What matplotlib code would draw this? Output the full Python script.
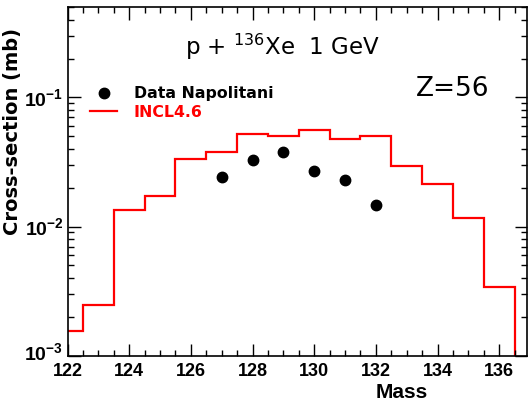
import matplotlib.pyplot as plt
import numpy as np
from matplotlib.lines import Line2D
from matplotlib.ticker import MultipleLocator, LogLocator, FixedLocator
from matplotlib.transforms import ScaledTranslation

plt.rcParams['font.family'] = ['Liberation Sans', 'DejaVu Sans']
plt.rcParams['mathtext.default'] = 'regular'

# INCL4.6 histogram, one bin per mass number
incl_mass = [122, 123, 124, 125, 126, 127, 128, 129, 130, 131, 132, 133, 134, 135, 136]
incl_xs = [1.55e-3, 2.47e-3, 1.355e-2, 1.71e-2, 3.33e-2, 3.80e-2, 5.23e-2, 5.03e-2,
           5.59e-2, 4.81e-2, 4.99e-2, 2.95e-2, 2.15e-2, 1.17e-2, 3.39e-3]

# Napolitani data points
data_mass = [127, 128, 129, 130, 131, 132]
data_xs = [2.43e-2, 3.27e-2, 3.81e-2, 2.69e-2, 2.29e-2, 1.47e-2]

fig = plt.figure(figsize=(5.28, 4.05), dpi=100)
ax = fig.add_axes([0.128, 0.122, 0.870, 0.860])

edges = np.append(np.array(incl_mass) - 0.5, incl_mass[-1] + 0.5)
ax.stairs(incl_xs, edges, baseline=1e-9, color='red', lw=1.6)
ax.plot(data_mass, data_xs, 'o', color='black', ms=7.5)

ax.set_yscale('log')
ax.set_xlim(122, 136.9)
ax.set_ylim(1e-3, 0.5)

ax.xaxis.set_major_locator(MultipleLocator(2))
ax.xaxis.set_minor_locator(MultipleLocator(0.5))
ax.yaxis.set_major_locator(FixedLocator([1e-3, 1e-2, 1e-1]))
ax.yaxis.set_minor_locator(LogLocator(subs=np.arange(2, 10)))
ax.set_yticklabels([r'$10^{-3}$', r'$10^{-2}$', r'$10^{-1}$'])
ax.tick_params(which='both', direction='in', top=True, right=True, width=1)
ax.tick_params(which='major', length=9)
ax.tick_params(which='minor', length=4.5)
ax.tick_params(axis='x', pad=5, labelsize=13)
ax.tick_params(axis='y', pad=3, labelsize=14)
for lab in ax.get_xticklabels() + ax.get_yticklabels():
    lab.set_fontweight('bold')
# lift the bottom decade label a little so it clears the 122 label
low = ax.get_yticklabels()[0]
low.set_transform(low.get_transform() + ScaledTranslation(0, 3 / 72, fig.dpi_scale_trans))
for s in ax.spines.values():
    s.set_linewidth(1.2)

ax.set_ylabel('Cross-section (mb)', fontsize=14, fontweight='bold', loc='top',
              family='DejaVu Sans')
ax.yaxis.set_label_coords(-0.1, 0.94)
ax.set_xlabel('Mass', fontsize=15, fontweight='bold', ha='right')
ax.xaxis.set_label_coords(0.785, -0.08)

ax.text(0.255, 0.863, r'p + $^{136}$Xe  1 GeV', transform=ax.transAxes,
        fontsize=16.5, va='baseline', family='DejaVu Sans')
ax.text(0.758, 0.745, 'Z=56', transform=ax.transAxes, fontsize=19,
        va='baseline', family='DejaVu Sans')

handles = [Line2D([], [], ls='none', marker='o', color='black', ms=7.5),
           Line2D([], [], color='red', lw=1.6)]
leg = ax.legend(handles, ['Data Napolitani', 'INCL4.6'], loc='upper left',
                bbox_to_anchor=(0.0486, 0.774), frameon=False, borderpad=0,
                borderaxespad=0, handlelength=1.75, handletextpad=1.05,
                labelspacing=0.25,
                prop={'weight': 'bold', 'size': 11.3, 'family': 'DejaVu Sans'})
leg.get_texts()[1].set_color('red')

fig.savefig('out.png', dpi=100)
